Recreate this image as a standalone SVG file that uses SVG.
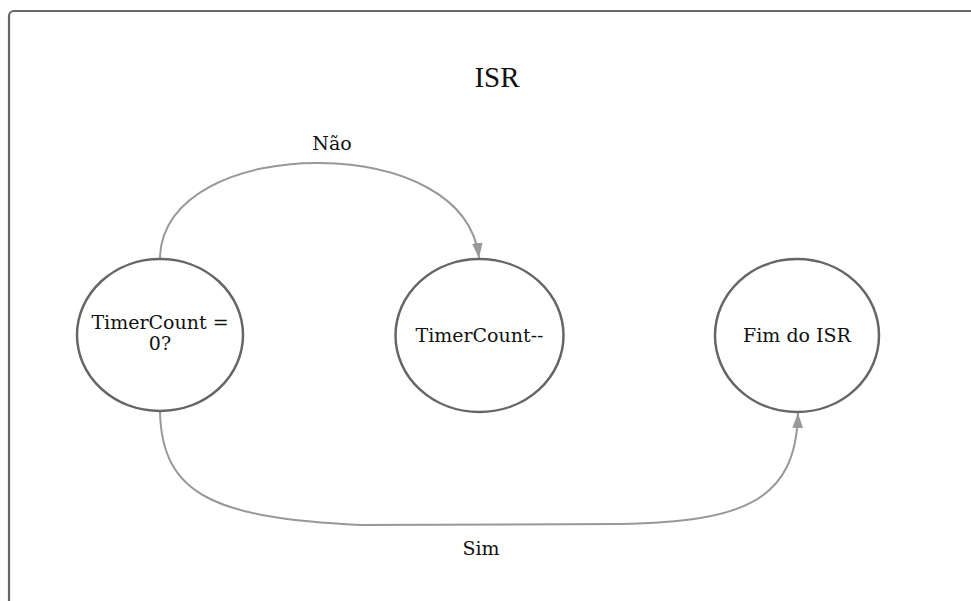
<svg xmlns="http://www.w3.org/2000/svg" width="971" height="601" viewBox="0 0 971 601">
<style>
.frame{fill:#fff;stroke:#666;stroke-width:2.2}
.node{fill:#fff;stroke:#666;stroke-width:2.5}
.edge{fill:none;stroke:#999;stroke-width:2}
text{font-family:"DejaVu Serif","Liberation Serif",serif;fill:#111;text-anchor:middle}
.lbl{font-size:19px}
.title{font-size:29px;font-family:"Liberation Serif","DejaVu Serif",serif}
</style>
<defs>
<marker id="arr" viewBox="0 0 14 10" refX="14" refY="5" markerWidth="7.5" markerHeight="5.5" orient="auto" markerUnits="strokeWidth">
<path d="M0,0 L14,5 L0,10 z" fill="#999"/>
</marker>
</defs>
<rect class="frame" x="9" y="11" width="1000" height="700" rx="5"/>
<text class="title" x="497" y="87">ISR</text>
<g id="connectors">
<path class="edge" d="M160,259 C160,195 240,162 320,163 C400,164 472,195 479,258" marker-end="url(#arr)"/>
<text class="lbl" x="332" y="150">Não</text>
<path class="edge" d="M160,412 C162,495 215,518 360,525 L620,524 C745,522 796,500 798,413" marker-end="url(#arr)"/>
<text class="lbl" x="481" y="555">Sim</text>
</g>
<g id="n1">
<ellipse class="node" cx="160" cy="335" rx="83" ry="76"/>
<text class="lbl" x="160" y="329">TimerCount =</text>
<text class="lbl" x="160" y="350">0?</text>
</g>
<g id="n2">
<ellipse class="node" cx="479.5" cy="335.5" rx="84" ry="76.5"/>
<text class="lbl" x="479.5" y="342">TimerCount--</text>
</g>
<g id="n3">
<ellipse class="node" cx="797" cy="335.5" rx="82" ry="76.5"/>
<text class="lbl" x="797" y="342">Fim do ISR</text>
</g>
</svg>
